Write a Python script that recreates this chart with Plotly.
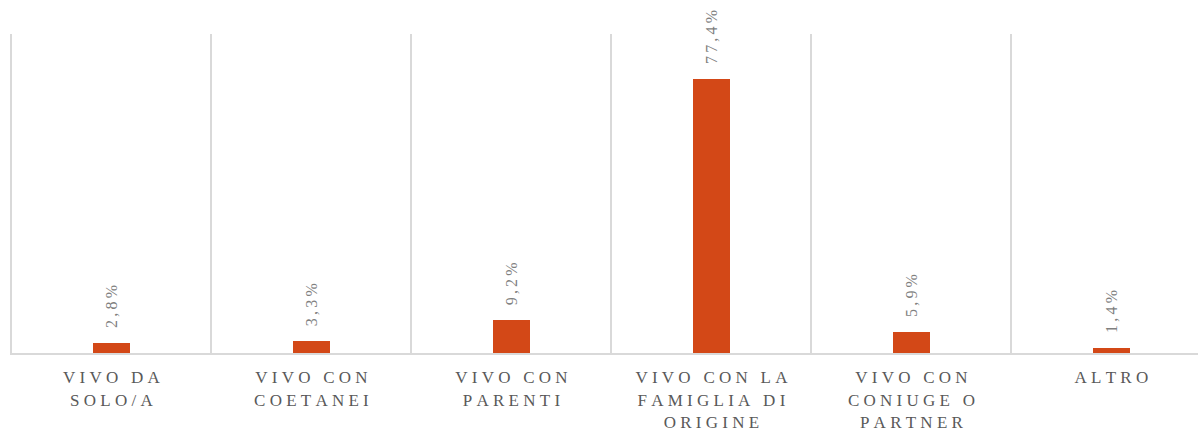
import plotly.graph_objects as go

categories = [
    "VIVO DA<br>SOLO/A",
    "VIVO CON<br>COETANEI",
    "VIVO CON<br>PARENTI",
    "VIVO CON LA<br>FAMIGLIA DI<br>ORIGINE",
    "VIVO CON<br>CONIUGE O<br>PARTNER",
    "ALTRO",
]
values = [2.8, 3.3, 9.2, 77.4, 5.9, 1.4]
value_labels = ["2,8%", "3,3%", "9,2%", "77,4%", "5,9%", "1,4%"]

BAR = "#D34817"
GRID = "#D9D9D9"
FONT = "Liberation Serif"
LS = "\u2005"  # tracking between letters


def spaced(text, gap=LS):
    lines = text.split("<br>")
    out = []
    for line in lines:
        words = line.split(" ")
        out.append((gap * 3).join(gap.join(w) for w in words))
    return "<br>".join(out)


x_cats = [spaced(c) for c in categories]

fig = go.Figure(
    go.Bar(
        x=x_cats,
        y=values,
        width=0.185,
        marker=dict(color=BAR, line=dict(width=0)),
        hoverinfo="skip",
    )
)

for cat, v, lab in zip(x_cats, values, value_labels):
    fig.add_annotation(
        x=cat, y=v, text=spaced(lab, "\u2009"), textangle=-90,
        showarrow=False, yanchor="bottom", xanchor="center", yshift=13,
        font=dict(family=FONT, size=16, color="#7F7F7F"),
    )

fig.update_layout(
    width=1198, height=432,
    margin=dict(l=10, r=0, t=34, b=79),
    plot_bgcolor="white", paper_bgcolor="white",
    showlegend=False,
    bargap=0,
    xaxis=dict(
        type="category",
        range=[-0.507, 5.433],
        tickson="boundaries",
        showgrid=True, gridcolor=GRID, gridwidth=2,
        showline=True, linecolor=GRID, linewidth=2,
        ticks="", ticklabelstandoff=8,
        tickfont=dict(family=FONT, size=17, color="#595959"),
        zeroline=False,
        fixedrange=True,
    ),
    yaxis=dict(
        range=[0, 90], visible=False, showgrid=False, zeroline=False,
        fixedrange=True,
    ),
)

fig.write_html("out.html")
